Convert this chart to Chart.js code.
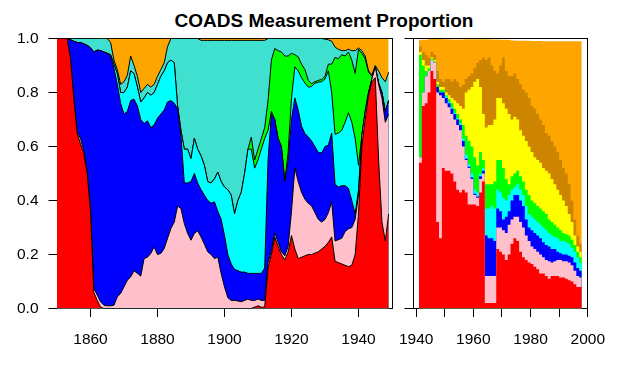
<!DOCTYPE html>
<html><head><meta charset="utf-8">
<script src="https://cdn.jsdelivr.net/npm/chart.js@4.4.1/dist/chart.umd.min.js"></script>
<style>
html,body{margin:0;padding:0;background:#fff;}
body{width:618px;height:365px;position:relative;overflow:hidden;font-family:"Liberation Sans",Arial,sans-serif;}
#title{position:absolute;left:0;top:11px;width:648px;text-align:center;font-weight:bold;font-size:19px;line-height:19px;color:#000;white-space:nowrap;}
#cL{position:absolute;left:0;top:0;}
#cR{position:absolute;left:380px;top:0;}
</style></head><body>
<div id="title">COADS Measurement Proportion</div>
<canvas id="cL" width="400" height="365"></canvas>
<canvas id="cR" width="238" height="365"></canvas>
<script>
// ---------- LEFT PANEL: yearly 1850-1949, cumulative proportion at the top of each band ----------
const leftYears = [];
for (let y = 1850; y <= 1949; y++) leftYears.push(y);

const leftRed = [
 1,1,1,1,0.93,0.78,0.65,0.61,0.575,0.50,
 0.36,0.06,0.03,0.005,0,0,0,0,0,0,
 0,0,0,0,0,0,0,0,0,0,
 0,0,0,0,0,0,0,0,0,0,
 0,0,0,0,0,0,0,0,0,0,
 0,0,0,0,0,0,0,0,0,0.005,
 0.01,0.005,0.005,0.15,0.2,0.265,0.23,0.2,0.18,0.21,
 0.27,0.22,0.185,0.19,0.195,0.2,0.2,0.205,0.21,0.22,
 0.23,0.245,0.265,0.175,0.17,0.165,0.16,0.155,0.16,0.2,
 0.35,0.6,0.70,0.79,0.84,0.855,0.55,0.32,0.25,0.35];
const leftPink = [
 1,1,1,1,0.93,0.78,0.655,0.63,0.585,0.505,
 0.37,0.075,0.05,0.025,0.012,0.01,0.01,0.012,0.043,0.056,
 0.08,0.105,0.117,0.14,0.13,0.12,0.185,0.19,0.204,0.228,
 0.2,0.204,0.222,0.26,0.296,0.32,0.38,0.37,0.315,0.278,
 0.253,0.278,0.288,0.265,0.238,0.21,0.2,0.185,0.19,0.13,
 0.08,0.04,0.03,0.03,0.028,0.025,0.03,0.035,0.03,0.03,
 0.035,0.03,0.03,0.17,0.215,0.28,0.245,0.21,0.195,0.23,
 0.36,0.52,0.47,0.43,0.405,0.39,0.38,0.355,0.33,0.32,
 0.33,0.355,0.395,0.25,0.255,0.26,0.285,0.295,0.30,0.33,
 0.42,0.64,0.73,0.80,0.85,0.895,0.83,0.78,0.69,0.72];
const leftBlue = [
 1,1,1,1,0.995,0.99,0.985,0.985,0.98,0.975,
 0.965,0.95,0.957,0.955,0.95,0.945,0.935,0.89,0.83,0.76,
 0.72,0.73,0.77,0.775,0.75,0.70,0.685,0.695,0.67,0.68,
 0.705,0.72,0.735,0.765,0.77,0.76,0.74,0.64,0.465,0.465,
 0.47,0.50,0.465,0.44,0.42,0.40,0.39,0.395,0.36,0.33,
 0.27,0.2,0.165,0.145,0.14,0.135,0.135,0.13,0.13,0.13,
 0.13,0.13,0.15,0.55,0.72,0.70,0.63,0.60,0.47,0.55,
 0.70,0.78,0.735,0.675,0.648,0.636,0.62,0.60,0.578,0.576,
 0.60,0.605,0.65,0.46,0.45,0.455,0.455,0.445,0.40,0.35,
 0.44,0.64,0.73,0.80,0.85,0.895,0.835,0.80,0.73,0.77];
const leftCyan = [
 1,1,1,1,0.995,0.99,0.985,0.985,0.98,0.975,
 0.965,0.95,0.957,0.955,0.95,0.945,0.94,0.905,0.87,0.80,
 0.80,0.82,0.88,0.87,0.82,0.765,0.78,0.80,0.79,0.80,
 0.83,0.86,0.88,0.91,0.92,0.91,0.75,0.66,0.59,0.59,
 0.555,0.63,0.59,0.565,0.53,0.47,0.465,0.48,0.505,0.47,
 0.45,0.44,0.42,0.35,0.40,0.43,0.50,0.59,0.59,0.52,
 0.55,0.59,0.63,0.66,0.73,0.70,0.63,0.60,0.47,0.58,
 0.78,0.895,0.88,0.855,0.835,0.82,0.822,0.835,0.838,0.84,
 0.85,0.88,0.80,0.645,0.65,0.66,0.69,0.725,0.69,0.63,
 0.53,0.64,0.73,0.80,0.85,0.895,0.835,0.80,0.73,0.77];
const leftGreen = [
 1,1,1,1,0.995,0.99,0.985,0.985,0.98,0.975,
 0.965,0.95,0.957,0.955,0.95,0.945,0.94,0.905,0.87,0.80,
 0.80,0.82,0.88,0.87,0.82,0.765,0.78,0.80,0.79,0.80,
 0.83,0.86,0.88,0.91,0.92,0.91,0.75,0.66,0.59,0.59,
 0.555,0.63,0.59,0.565,0.53,0.47,0.465,0.48,0.505,0.47,
 0.45,0.44,0.42,0.35,0.40,0.43,0.50,0.59,0.635,0.55,
 0.59,0.63,0.67,0.77,0.92,0.963,0.955,0.95,0.935,0.935,
 0.945,0.94,0.932,0.905,0.885,0.845,0.832,0.84,0.845,0.848,
 0.86,0.905,0.905,0.93,0.925,0.94,0.935,0.95,0.92,0.87,
 0.96,0.945,0.925,0.875,0.86,0.895,0.835,0.80,0.73,0.77];
const leftTurquoise = [
 1,1,1,1,1,1,1,1,1,1,
 1,1,1,1,1,1,0.985,0.92,0.885,0.83,
 0.84,0.864,0.935,0.90,0.86,0.80,0.815,0.83,0.82,0.83,
 0.86,0.885,0.91,0.97,1,1,1,1,1,1,
 1,1,1,0.993,0.993,0.993,0.993,0.993,0.993,0.993,
 0.993,0.993,0.993,0.993,0.993,0.993,0.993,0.993,0.993,0.993,
 0.993,0.993,0.993,1,1,1,1,1,1,1,
 1,1,1,1,1,1,1,1,1,1,
 0.998,0.995,0.99,0.968,0.96,0.955,0.955,0.96,0.955,0.955,
 0.965,0.955,0.935,0.88,0.866,0.90,0.88,0.855,0.84,0.875];
const leftOrange = [
 1,1,1,1,1,1,1,1,1,1, 1,1,1,1,1,1,1,1,1,1,
 1,1,1,1,1,1,1,1,1,1, 1,1,1,1,1,1,1,1,1,1,
 1,1,1,1,1,1,1,1,1,1, 1,1,1,1,1,1,1,1,1,1,
 1,1,1,1,1,1,1,1,1,1, 1,1,1,1,1,1,1,1,1,1,
 1,1,1,1,1,1,1,1,1,1, 1,1,1,1,1,1,1,1,1,1];
const leftXTicks = [1860, 1880, 1900, 1920, 1940];

// ---------- RIGHT PANEL: yearly 1941-1997, cumulative proportion at the top of each band ----------
const rightYears = [];
for (let y = 1941; y <= 1997; y++) rightYears.push(y);
const rightEnd = 1997.9;

const rightRed = [
 .54,.75,.76,.80,.88,.85,.32,.26,.52,.51,
 .51,.50,.47,.44,.43,.44,.43,.385,.385,.385,
 .38,.43,.47,.02,.02,.02,.02,.22,.21,.20,
 .18,.20,.24,.26,.25,.21,.19,.18,.17,.165,
 .155,.145,.13,.13,.12,.11,.12,.12,.12,.115,
 .115,.11,.105,.10,.09,.08,.08];
const rightPink = [
 .56,.80,.86,.88,.92,.91,.80,.79,.78,.76,
 .745,.72,.70,.68,.66,.60,.55,.52,.48,.42,
 .41,.48,.50,.12,.12,.12,.12,.30,.30,.29,
 .28,.31,.33,.34,.34,.32,.30,.27,.25,.23,
 .22,.21,.20,.19,.18,.175,.17,.175,.18,.18,
 .175,.175,.17,.16,.14,.12,.115];
const rightBlue = [
 .56,.80,.86,.88,.92,.91,.82,.80,.80,.78,
 .76,.74,.72,.70,.68,.62,.555,.525,.485,.425,
 .415,.49,.51,.27,.26,.26,.25,.37,.36,.33,
 .34,.36,.40,.42,.42,.40,.38,.33,.30,.29,
 .28,.27,.26,.245,.235,.23,.22,.22,.21,.205,
 .20,.20,.195,.19,.17,.15,.14];
const rightCyan = [
 .56,.80,.86,.88,.92,.91,.82,.80,.80,.785,
 .765,.745,.725,.705,.685,.63,.57,.535,.50,.44,
 .43,.50,.52,.37,.37,.38,.37,.44,.43,.41,
 .40,.42,.44,.45,.46,.44,.42,.38,.35,.34,
 .33,.32,.31,.30,.29,.28,.27,.265,.26,.25,
 .25,.245,.24,.225,.21,.19,.17];
const rightGreen = [
 .94,.90,.88,.89,.925,.915,.83,.81,.81,.79,
 .775,.76,.74,.72,.70,.68,.64,.62,.60,.56,
 .53,.58,.55,.46,.46,.46,.47,.55,.55,.52,
 .48,.46,.49,.50,.51,.49,.47,.44,.42,.40,
 .39,.38,.37,.36,.35,.33,.32,.31,.30,.29,
 .28,.275,.27,.255,.235,.21,.19];
const rightYellow = [
 .95,.92,.90,.90,.93,.92,.84,.82,.82,.80,
 .79,.78,.77,.76,.75,.74,.80,.81,.82,.84,
 .85,.82,.72,.67,.68,.68,.70,.78,.78,.76,
 .74,.72,.70,.71,.70,.66,.64,.62,.60,.58,
 .56,.55,.54,.52,.51,.50,.48,.46,.44,.42,
 .40,.38,.35,.32,.27,.23,.21];
const rightDarkOrange = [
 .97,.95,.94,.93,.95,.94,.88,.85,.84,.85,
 .85,.84,.85,.84,.82,.83,.85,.86,.87,.89,
 .91,.92,.93,.92,.93,.90,.88,.87,.90,.93,
 .88,.86,.86,.87,.85,.83,.81,.80,.78,.75,
 .74,.72,.70,.68,.65,.64,.62,.60,.58,.55,
 .52,.50,.46,.40,.33,.27,.24];
const rightOrange = [
 .995,.995,.995,.998,.998,.998,.998,.998,.997,.997,
 .997,.996,.996,.996,.996,.996,.997,.997,.997,.997,
 .997,.997,.997,.997,.997,.996,.996,.996,.995,.995,
 .995,.995,.993,.993,.992,.992,.992,.992,.992,.991,
 .991,.991,.991,.990,.99,.99,.99,.99,.99,.99,
 .99,.99,.99,.99,.99,.99,.99];
const rightXTicks = [1940, 1950, 1960, 1970, 1980, 1990, 2000];
const rightXLabels = ['1940', '', '1960', '', '1980', '', '2000'];
const yTicks = [0, 0.2, 0.4, 0.6, 0.8, 1.0];

// ---------- styling ----------
const COL = {red:'#FF0000', pink:'#FFC0CB', blue:'#0000FF', cyan:'#00FFFF', green:'#00FF00',
             turq:'#40E0D0', orange:'#FFA500', yellow:'#FFFF00', dark:'#CD8500'};
Chart.defaults.font.family = '"Liberation Sans", Arial, sans-serif';
Chart.defaults.font.size = 15.5;
Chart.defaults.color = '#000';

function points(xs, ys, endX) {
  const a = xs.map((x, i) => ({x: x, y: ys[i]}));
  if (endX !== undefined) a.push({x: endX, y: ys[ys.length - 1]});
  return a;
}
function datasets(layers, xs, withBorder, stepped, endX) {
  return layers.map(([vals, col]) => ({
    data: points(xs, vals, endX),
    backgroundColor: col,
    borderColor: withBorder ? '#000' : 'rgba(0,0,0,0)',
    borderWidth: withBorder ? 1 : 0,
    fill: 'origin',
    pointRadius: 0,
    tension: 0,
    stepped: stepped ? 'before' : false,
    xAxisID: 'x', yAxisID: 'y'
  }));
}
const axisGrid = {display:true, drawOnChartArea:false, drawTicks:true, tickLength:8.5, color:'#000', tickColor:'#000', lineWidth:1};
const axisBorder = {display:true, color:'#000', width:1};
function scales(xmin, xmax, xTicks, xLabel, showYLabels, xH, yW) {
  return {
    x: {type:'linear', position:'bottom', min:xmin, max:xmax,
        afterBuildTicks: s => { s.ticks = xTicks.map(v => ({value:v})); },
        ticks: {autoSkip:false, maxRotation:0, minRotation:0, padding:13, callback: xLabel},
        grid: axisGrid, border: axisBorder,
        afterFit: s => { s.height = xH; }},
    y: {type:'linear', position:'left', min:0, max:1,
        afterBuildTicks: s => { s.ticks = yTicks.map(v => ({value:v})); },
        ticks: {display: showYLabels, padding:10, callback: v => Number(v).toFixed(1)},
        grid: axisGrid, border: axisBorder,
        afterFit: s => { s.width = yW; }},
    xTop: {type:'linear', position:'top', min:xmin, max:xmax,
        ticks:{display:false}, grid:{display:false}, border: axisBorder,
        afterFit: s => { s.height = 0; }},
    yRight: {type:'linear', position:'right', min:0, max:1,
        ticks:{display:false}, grid:{display:false}, border: axisBorder,
        afterFit: s => { s.width = 0; }}
  };
}
const common = {responsive:false, animation:false, devicePixelRatio:1,
  plugins:{legend:{display:false}, tooltip:{enabled:false}, title:{display:false}}};

new Chart(document.getElementById('cL'), {
  type: 'line',
  data: {datasets: datasets([
    [leftRed, COL.red], [leftPink, COL.pink], [leftBlue, COL.blue], [leftCyan, COL.cyan],
    [leftGreen, COL.green], [leftTurquoise, COL.turq], [leftOrange, COL.orange]
  ], leftYears, true, false)},
  options: Object.assign({}, common, {
    layout: {padding: {left:0, top:38.5, right:8, bottom:0}},
    scales: scales(1850, 1950, leftXTicks, v => String(v), true, 56.5, 57)
  })
});

new Chart(document.getElementById('cR'), {
  type: 'line',
  data: {datasets: datasets([
    [rightRed, COL.red], [rightPink, COL.pink], [rightBlue, COL.blue], [rightCyan, COL.cyan],
    [rightGreen, COL.green], [rightYellow, COL.yellow], [rightDarkOrange, COL.dark], [rightOrange, COL.orange]
  ], rightYears, false, true, rightEnd)},
  options: Object.assign({}, common, {
    layout: {padding: {left:0, top:38.5, right:19, bottom:0}},
    scales: scales(1938.9, 2000, rightXTicks, v => rightXLabels[rightXTicks.indexOf(v)] || '', false, 56.5, 33)
  })
});
</script></body></html>
